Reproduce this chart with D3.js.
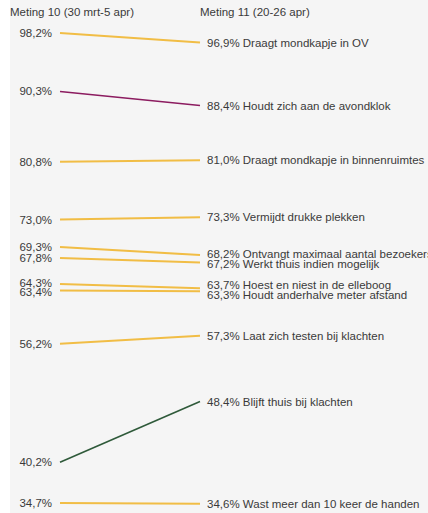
<!DOCTYPE html>
<html>
<head>
<meta charset="utf-8">
<script src="https://cdn.jsdelivr.net/npm/d3@7"></script>
<style>
  body { margin: 0; background: #fff; overflow: hidden; }
  text { font-family: "Liberation Sans", Arial, sans-serif; fill: #3a3a3a; }
</style>
</head>
<body>
<div id="chart"></div>
<script>
// data
var measures = ["Meting 10 (30 mrt-5 apr)", "Meting 11 (20-26 apr)"];
var behaviours = [
    "Draagt mondkapje in OV",
    "Houdt zich aan de avondklok",
    "Draagt mondkapje in binnenruimtes",
    "Vermijdt drukke plekken",
    "Ontvangt maximaal aantal bezoekers",
    "Werkt thuis indien mogelijk",
    "Hoest en niest in de elleboog",
    "Houdt anderhalve meter afstand",
    "Laat zich testen bij klachten",
    "Blijft thuis bij klachten",
    "Wast meer dan 10 keer de handen"
];
var meting10 = [98.2, 90.3, 80.8, 73.0, 69.3, 67.8, 64.3, 63.4, 56.2, 40.2, 34.7];
var meting11 = [96.9, 88.4, 81.0, 73.3, 68.2, 67.2, 63.7, 63.3, 57.3, 48.4, 34.6];
var groups = ["neutral", "down", "neutral", "neutral", "neutral", "neutral",
              "neutral", "neutral", "neutral", "up", "neutral"];

var width = 428, height = 513;
var formatPct = function(v) { return d3.format(".1f")(v).replace(".", ",") + "%"; };

var color = d3.scaleOrdinal()
    .domain(["neutral", "down", "up"])
    .range(["#f1bd45", "#8c1c60", "#2f5a3a"]);

var rows = behaviours.map(function(d, i) {
    return { name: d, a: meting10[i], b: meting11[i], group: groups[i] };
});

var x = d3.scalePoint()
    .domain(measures)
    .range([60, 200]);

var y = d3.scaleLinear()
    .domain([34.7, 98.2])
    .range([503, 33]);

// push overlapping labels apart
function relax(ys, gap) {
    var idx = ys.map(function(d, i) { return i; }).sort(function(a, b) { return ys[a] - ys[b]; });
    var out = ys.slice();
    for (var it = 0; it < 20; it++) {
        for (var k = 1; k < idx.length; k++) {
            var p = idx[k - 1], q = idx[k];
            var diff = out[q] - out[p];
            if (diff < gap) {
                var shift = (gap - diff) / 2;
                out[p] -= shift;
                out[q] += shift;
            }
        }
    }
    return out;
}

var leftY = relax(rows.map(function(d) { return y(d.a); }), 9.5);
var rightY = relax(rows.map(function(d) { return y(d.b); }), 9.5);

var svg = d3.select("#chart").append("svg")
    .attr("width", width)
    .attr("height", height);

svg.append("rect")
    .attr("x", 10)
    .attr("y", 0)
    .attr("width", width - 10)
    .attr("height", height)
    .style("fill", "#f5f5f5");

// headers
svg.selectAll(".header")
    .data(measures)
    .enter().append("text")
    .attr("class", "header")
    .attr("x", function(d, i) { return i == 0 ? 10 : x(d); })
    .attr("y", 16)
    .style("font-size", "11.5px")
    .text(function(d) { return d; });

// slope lines
svg.append("g").selectAll(".slope")
    .data(rows)
    .enter().append("line")
    .attr("class", "slope")
    .attr("x1", x(measures[0]))
    .attr("x2", x(measures[1]))
    .attr("y1", function(d) { return y(d.a); })
    .attr("y2", function(d) { return y(d.b); })
    .style("stroke", function(d) { return color(d.group); })
    .style("stroke-width", function(d) { return d.group == "neutral" ? 2 : 1.6; });

// left labels
svg.append("g").selectAll(".leftLabel")
    .data(rows)
    .enter().append("text")
    .attr("class", "leftLabel")
    .attr("x", x(measures[0]) - 8)
    .attr("y", function(d, i) { return leftY[i]; })
    .attr("dy", ".35em")
    .attr("text-anchor", "end")
    .style("font-size", "11.5px")
    .text(function(d) { return formatPct(d.a); });

// right labels
svg.append("g").selectAll(".rightLabel")
    .data(rows)
    .enter().append("text")
    .attr("class", "rightLabel")
    .attr("x", x(measures[1]) + 7)
    .attr("y", function(d, i) { return rightY[i]; })
    .attr("dy", ".35em")
    .style("font-size", "11.5px")
    .text(function(d) { return formatPct(d.b) + " " + d.name; });
</script>
</body>
</html>
